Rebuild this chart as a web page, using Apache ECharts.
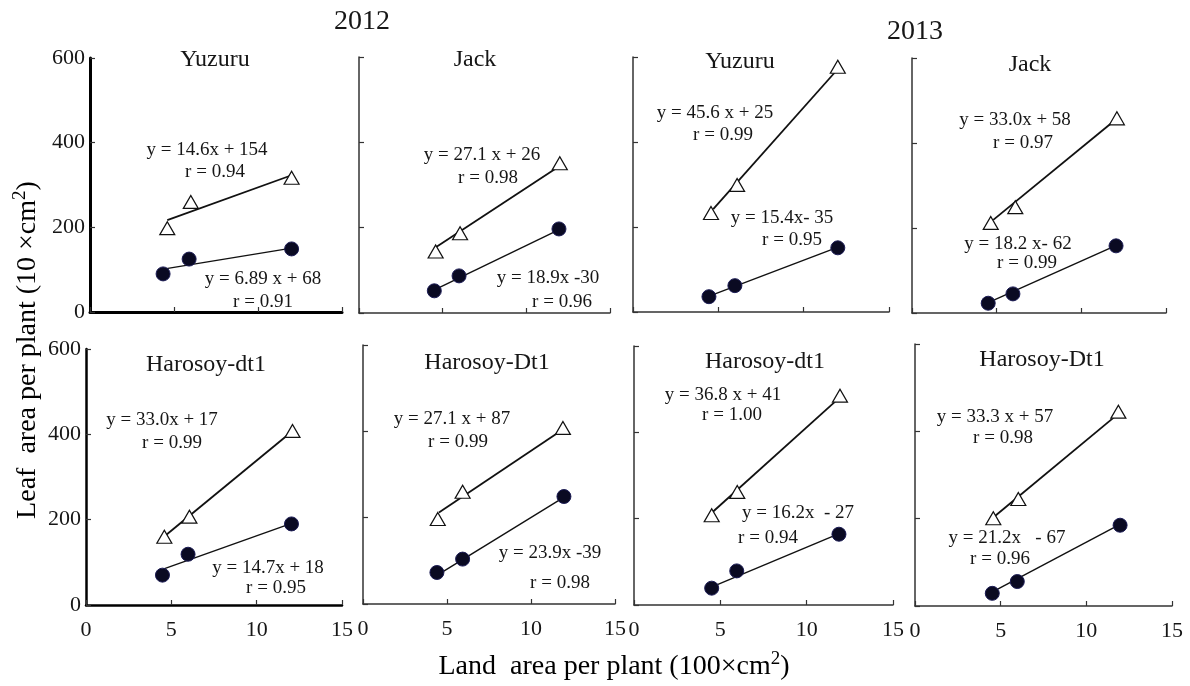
<!DOCTYPE html>
<html>
<head>
<meta charset="utf-8">
<script src="https://cdn.jsdelivr.net/npm/echarts@6/dist/echarts.min.js"></script>
<style>
  html, body { margin: 0; padding: 0; background: #fff; }
  #main { width: 1190px; height: 686px; }
</style>
</head>
<body>
<div id="main"></div>
<script>
// panel titles (2012: first two of each row, 2013: last two)
var panelTitles = ['Yuzuru', 'Jack', 'Yuzuru', 'Jack', 'Harosoy-dt1', 'Harosoy-Dt1', 'Harosoy-dt1', 'Harosoy-Dt1'];
var yearLabels = ['2012', '2013'];

// open triangles: [land area, leaf area]
var triPoints = [
  [[4.6, 198], [6.0, 260], [12.0, 317]],
  [[4.58, 144], [6.04, 187], [12.0, 351]],
  [[4.57, 233], [6.1, 299], [12.0, 577]],
  [[4.65, 212], [6.1, 249], [12.1, 458]],
  [[4.59, 160], [6.06, 207], [12.1, 408]],
  [[4.45, 197], [5.93, 260], [11.9, 408]],
  [[4.5, 208], [5.98, 262], [11.93, 485]],
  [[4.57, 201], [6.03, 245], [11.87, 445]]
];
// filled circles
var dotPoints = [
  [[4.35, 90], [5.9, 125], [12.0, 149]],
  [[4.5, 52], [5.98, 87], [11.95, 197]],
  [[4.45, 36], [5.97, 62], [12.0, 151]],
  [[4.5, 23], [5.96, 45], [12.05, 158]],
  [[4.48, 70], [5.98, 119], [12.04, 190]],
  [[4.4, 73], [5.93, 104], [11.96, 249]],
  [[4.5, 39], [5.95, 79], [11.87, 164]],
  [[4.51, 29], [5.97, 56], [11.97, 185]]
];
// regression line end points
var triFit = [
  [[4.6, 217], [12.0, 323]],
  [[4.5, 152], [11.9, 342]],
  [[4.7, 242], [11.9, 567]],
  [[4.8, 219], [12.0, 454]],
  [[4.69, 164], [11.96, 403]],
  [[4.52, 212], [11.85, 403]],
  [[4.57, 216], [11.81, 477]],
  [[4.67, 206], [11.77, 437]]
];
var dotFit = [
  [[4.45, 102], [12.0, 151]],
  [[4.6, 56], [11.9, 194]],
  [[4.5, 38], [11.9, 151]],
  [[4.6, 26], [12.0, 158]],
  [[4.52, 84], [11.96, 190]],
  [[4.52, 69], [11.9, 246]],
  [[4.69, 45], [11.81, 164]],
  [[4.55, 33], [11.77, 183]]
];
var triEq = ['y = 14.6x + 154', 'y = 27.1 x + 26', 'y = 45.6 x + 25', 'y = 33.0x + 58',
             'y = 33.0x + 17', 'y = 27.1 x + 87', 'y = 36.8 x + 41', 'y = 33.3 x + 57'];
var triR = ['r = 0.94', 'r = 0.98', 'r = 0.99', 'r = 0.97', 'r = 0.99', 'r = 0.99', 'r = 1.00', 'r = 0.98'];
var dotEq = ['y = 6.89 x + 68', 'y = 18.9x -30', 'y = 15.4x- 35', 'y = 18.2 x- 62',
             'y = 14.7x + 18', 'y = 23.9x -39', 'y = 16.2x  - 27', 'y = 21.2x   - 67'];
var dotR = ['r = 0.91', 'r = 0.96', 'r = 0.95', 'r = 0.99', 'r = 0.95', 'r = 0.98', 'r = 0.94', 'r = 0.96'];

var xMin = 0, xMax = 15, xStep = 5;
var yMin = 0, yMax = 600, yStep = 200;

// layout (pixels)
var grids = [
  [90, 58, 252, 254], [359, 57, 251, 256], [633, 57, 256, 255], [912, 58, 254, 255],
  [86, 349, 256, 256], [363, 345, 252, 259], [634, 346, 259, 259], [915, 344, 257, 262]
];
var titlePos = [[215, 60], [475, 60], [740, 62], [1030, 65], [206, 365], [487, 363], [765, 362], [1042, 360]];
var triEqPos = [[207, 150], [482, 155], [715, 113], [1015, 120], [162, 420], [452, 419], [723, 395], [995, 417]];
var triRPos = [[215, 172], [488, 178], [723, 135], [1023, 143], [172, 443], [458, 442], [732, 415], [1003, 438]];
var dotEqPos = [[263, 279], [548, 278], [782, 218], [1018, 244], [268, 568], [550, 553], [798, 513], [1007, 538]];
var dotRPos = [[263, 302], [562, 302], [792, 240], [1027, 263], [276, 588], [560, 583], [768, 538], [1000, 559]];

var FONT = '"Liberation Serif", "DejaVu Serif", serif';
var INK = '#161616';

var myChart = echarts.init(document.getElementById('main'));

var gridList = [], xAxes = [], yAxes = [], seriesList = [], texts = [];

function txt(s, p, size) {
  return {
    type: 'text', x: p[0], y: p[1], z: 10,
    style: {
      text: s, fill: INK, font: size + 'px ' + FONT,
      align: 'center', verticalAlign: 'middle',
      textAlign: 'center', textVerticalAlign: 'middle'
    }
  };
}

for (var i = 0; i < 8; i++) {
  var g = grids[i];
  var bold = (i === 0 || i === 4);
  var axisW = i === 0 ? 3 : (i === 4 ? 2.5 : 1.5);
  var axisColor = bold ? '#000' : '#333';
  gridList.push({ left: g[0], top: g[1], width: g[2], height: g[3] });
  xAxes.push({
    type: 'value', gridIndex: i, min: xMin, max: xMax, interval: xStep,
    axisLine: { show: true, onZero: false, lineStyle: { color: axisColor, width: axisW } },
    axisTick: { show: true, inside: true, length: 5, lineStyle: { color: '#333', width: 1.2 } },
    axisLabel: { show: i >= 4, margin: 14, fontSize: 22, fontFamily: FONT, color: INK },
    splitLine: { show: false }
  });
  yAxes.push({
    type: 'value', gridIndex: i, min: yMin, max: yMax, interval: yStep,
    axisLine: { show: true, onZero: false, lineStyle: { color: axisColor, width: axisW } },
    axisTick: { show: true, inside: true, length: 5, lineStyle: { color: '#333', width: 1.2 } },
    axisLabel: { show: bold, margin: 5, fontSize: 22, fontFamily: FONT, color: INK },
    splitLine: { show: false }
  });

  seriesList.push({
    type: 'line', xAxisIndex: i, yAxisIndex: i, data: triFit[i], symbol: 'none', z: 2,
    lineStyle: { color: '#111', width: 1.8 }, silent: true
  });
  seriesList.push({
    type: 'line', xAxisIndex: i, yAxisIndex: i, data: dotFit[i], symbol: 'none', z: 2,
    lineStyle: { color: '#111', width: 1.4 }, silent: true
  });
  seriesList.push({
    type: 'scatter', xAxisIndex: i, yAxisIndex: i, data: triPoints[i], z: 3,
    symbol: 'triangle', symbolSize: [15, 13],
    itemStyle: { color: '#fff', borderColor: '#111', borderWidth: 1.2, opacity: 1 }
  });
  seriesList.push({
    type: 'scatter', xAxisIndex: i, yAxisIndex: i, data: dotPoints[i], z: 3,
    symbol: 'circle', symbolSize: 14,
    itemStyle: { color: '#0a0a22', borderColor: '#1c1c55', borderWidth: 1, opacity: 1 }
  });

  texts.push(txt(panelTitles[i], titlePos[i], 24));
  texts.push(txt(triEq[i], triEqPos[i], 19));
  texts.push(txt(triR[i], triRPos[i], 19));
  texts.push(txt(dotEq[i], dotEqPos[i], 19));
  texts.push(txt(dotR[i], dotRPos[i], 19));
}

texts.push(txt(yearLabels[0], [362, 22], 28));
texts.push(txt(yearLabels[1], [915, 32], 28));

// axis titles with superscript
var rich = {
  a: { fontSize: 28, fontFamily: FONT, color: INK, lineHeight: 34 },
  s: { fontSize: 19, fontFamily: FONT, color: INK, verticalAlign: 'top', lineHeight: 34 }
};
texts.push({
  type: 'text', x: 614, y: 667, z: 10,
  style: {
    text: '{a|Land  area per plant (100×cm}{s|2}{a|)}', rich: rich,
    align: 'center', verticalAlign: 'middle', textAlign: 'center', textVerticalAlign: 'middle'
  }
});
texts.push({
  type: 'text', x: 28, y: 350, z: 10, rotation: Math.PI / 2,
  style: {
    text: '{a|Leaf  area per plant (10 ×cm}{s|2}{a|)}', rich: rich,
    align: 'center', verticalAlign: 'middle', textAlign: 'center', textVerticalAlign: 'middle'
  }
});

var option = {
  backgroundColor: '#fff',
  animation: false,
  grid: gridList,
  xAxis: xAxes,
  yAxis: yAxes,
  series: seriesList,
  graphic: texts
};
myChart.setOption(option);
</script>
</body>
</html>
